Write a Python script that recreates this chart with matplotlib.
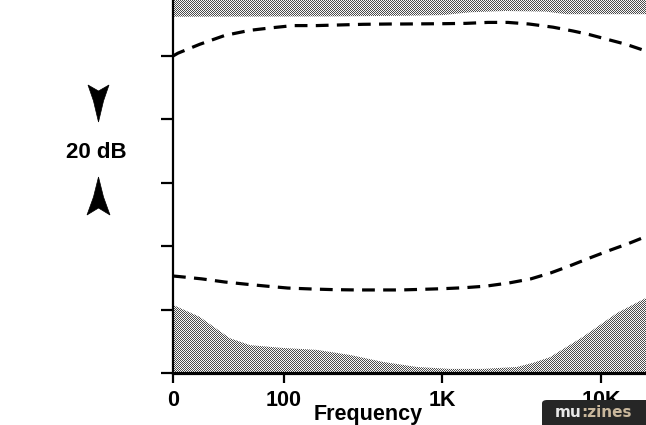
import numpy as np
import matplotlib
matplotlib.use("Agg")
import matplotlib.pyplot as plt
from matplotlib.patches import Polygon, FancyBboxPatch
from matplotlib.ticker import NullLocator

plt.rcParams['font.family'] = ['Liberation Sans', 'DejaVu Sans']

# ---------------- data ----------------
tick_freqs = [20, 100, 1000, 10000]
tick_labels = ["0", "100", "1K", "10K"]
db_ticks = [0, 20, 40, 60, 80, 100]

upper_freq = [20, 21.5, 29.5, 42.5, 61, 83.6, 114.5, 161, 225, 316, 467, 564,
              1020, 1405, 1935, 2590, 3515, 4980, 6650, 8390, 11070, 14380, 18400, 19240]
upper_db = [100.0, 100.9, 103.7, 106.5, 108.1, 108.9, 109.6, 109.6, 109.8, 110.0, 110.1, 110.1,
            110.2, 110.3, 110.6, 110.6, 110.1, 109.1, 107.9, 106.8, 105.2, 103.7, 101.9, 101.6]

lower_freq = [20, 22.1, 30.3, 42.5, 58.2, 77.8, 106, 150, 205, 287, 404, 547,
              753, 1007, 1367, 1880, 2628, 3617, 4838, 6286, 8400, 11220, 15020, 18670, 19240]
lower_db = [30.6, 30.4, 29.7, 28.7, 28.0, 27.4, 26.8, 26.5, 26.3, 26.2, 26.2, 26.2,
            26.4, 26.6, 26.9, 27.4, 28.4, 29.7, 31.6, 33.7, 36.2, 38.6, 40.9, 42.8, 43.1]

floor_freq = [20, 29.5, 45.6, 61, 98.6, 161, 261, 422, 691, 1115, 1800, 2950,
              3720, 4770, 7690, 12600, 19240]
floor_db = [21.5, 17.7, 11.0, 8.8, 7.9, 7.3, 5.7, 3.5, 1.9, 1.3, 1.3, 1.9,
            3.2, 5.0, 11.4, 18.9, 23.7]

ceil_freq = [20, 200, 600, 1000, 1500, 2500, 4500, 6000, 19240]
ceil_db = [112.4, 112.5, 112.7, 112.9, 113.8, 114.2, 114.0, 113.2, 113.2]

# ---------------- figure ----------------
W, H = 646, 425
fig = plt.figure(figsize=(W / 100, H / 100), dpi=100)
fig.patch.set_facecolor('white')

def fx(px):
    return px / W

def fy(py):
    return 1 - py / H

ax = fig.add_axes([173 / W, 52 / H, (W - 173) / W, 373 / H])
ax.set_facecolor('none')
ax.set_xscale('log')
ax.set_xlim(20, 19240)
ax.set_ylim(0, 117.67)

for s in ('top', 'right'):
    ax.spines[s].set_visible(False)
ax.spines['left'].set_linewidth(1.6)
ax.spines['bottom'].set_linewidth(2.3)
ax.spines['left'].set_zorder(5)
ax.spines['bottom'].set_zorder(5)

ax.set_xticks(tick_freqs)
ax.set_xticklabels(tick_labels, fontweight='bold')
ax.xaxis.set_minor_locator(NullLocator())
ax.set_yticks(db_ticks)
ax.yaxis.set_minor_locator(NullLocator())
ax.tick_params(axis='x', direction='out', length=7.5, width=1.6, pad=5.0,
               labelsize=15.5, colors='black')
ax.tick_params(axis='y', direction='out', length=9, width=1.6, labelleft=False)

# shaded regions (clip polygons)
floor_poly = ax.fill_between(floor_freq, 0, floor_db, facecolor='none', edgecolor='none')
ceil_poly = ax.fill_between(ceil_freq, ceil_db, 117.67, facecolor='none', edgecolor='none')

# halftone texture
ii, jj = np.mgrid[0:H, 0:W]
chk = ((ii + jj) % 2 == 0)
tex = np.where(chk, 0.30, 0.98)[..., None] * np.ones(3)
for poly in (floor_poly, ceil_poly):
    im = fig.figimage(tex, xo=0, yo=0, origin='upper', zorder=-1)
    im.set_clip_path(poly.get_paths()[0], poly.get_transform())

# dashed response curves
for fr, db in ((upper_freq, upper_db), (lower_freq, lower_db)):
    ax.plot(fr, db, color='black', lw=2.3, dashes=(4.0, 2.6),
            dash_capstyle='butt', zorder=4, clip_on=False)

# labels
fig.text(fx(368.5), fy(420), "Frequency", ha='center', va='baseline', fontsize=15.5,
         fontweight='bold')
fig.text(fx(96.5), fy(158), "20 dB", ha='center', va='baseline', fontsize=16,
         fontweight='bold')

def pts(lst):
    return [(fx(x), fy(y)) for x, y in lst]

down_arrow = [(88, 85), (98.5, 91), (109, 85), (103.5, 101), (98.5, 122), (93.5, 101)]
up_arrow = [(98.5, 177), (103.5, 197), (110, 215), (98.5, 208), (87, 215), (93.5, 197)]
for a in (down_arrow, up_arrow):
    fig.patches.append(Polygon(pts(a), closed=True, facecolor='black', edgecolor='black',
                               lw=0.5, transform=fig.transFigure, figure=fig))

# watermark
box = FancyBboxPatch((fx(542), fy(428)), fx(110), (28) / H,
                     boxstyle="round,pad=0,rounding_size=0.008",
                     facecolor='#262626', edgecolor='none', transform=fig.transFigure,
                     figure=fig, zorder=6)
fig.patches.append(box)
fig.text(fx(581), fy(417), "mu", ha='right', va='baseline', fontsize=11,
         fontweight='bold', color='#e8e8e8', family='DejaVu Sans', zorder=7)
fig.text(fx(581), fy(417), ":zines", ha='left', va='baseline', fontsize=11,
         fontweight='bold', color='#c9b79c', family='DejaVu Sans', zorder=7)

fig.savefig("out.png", dpi=100)
